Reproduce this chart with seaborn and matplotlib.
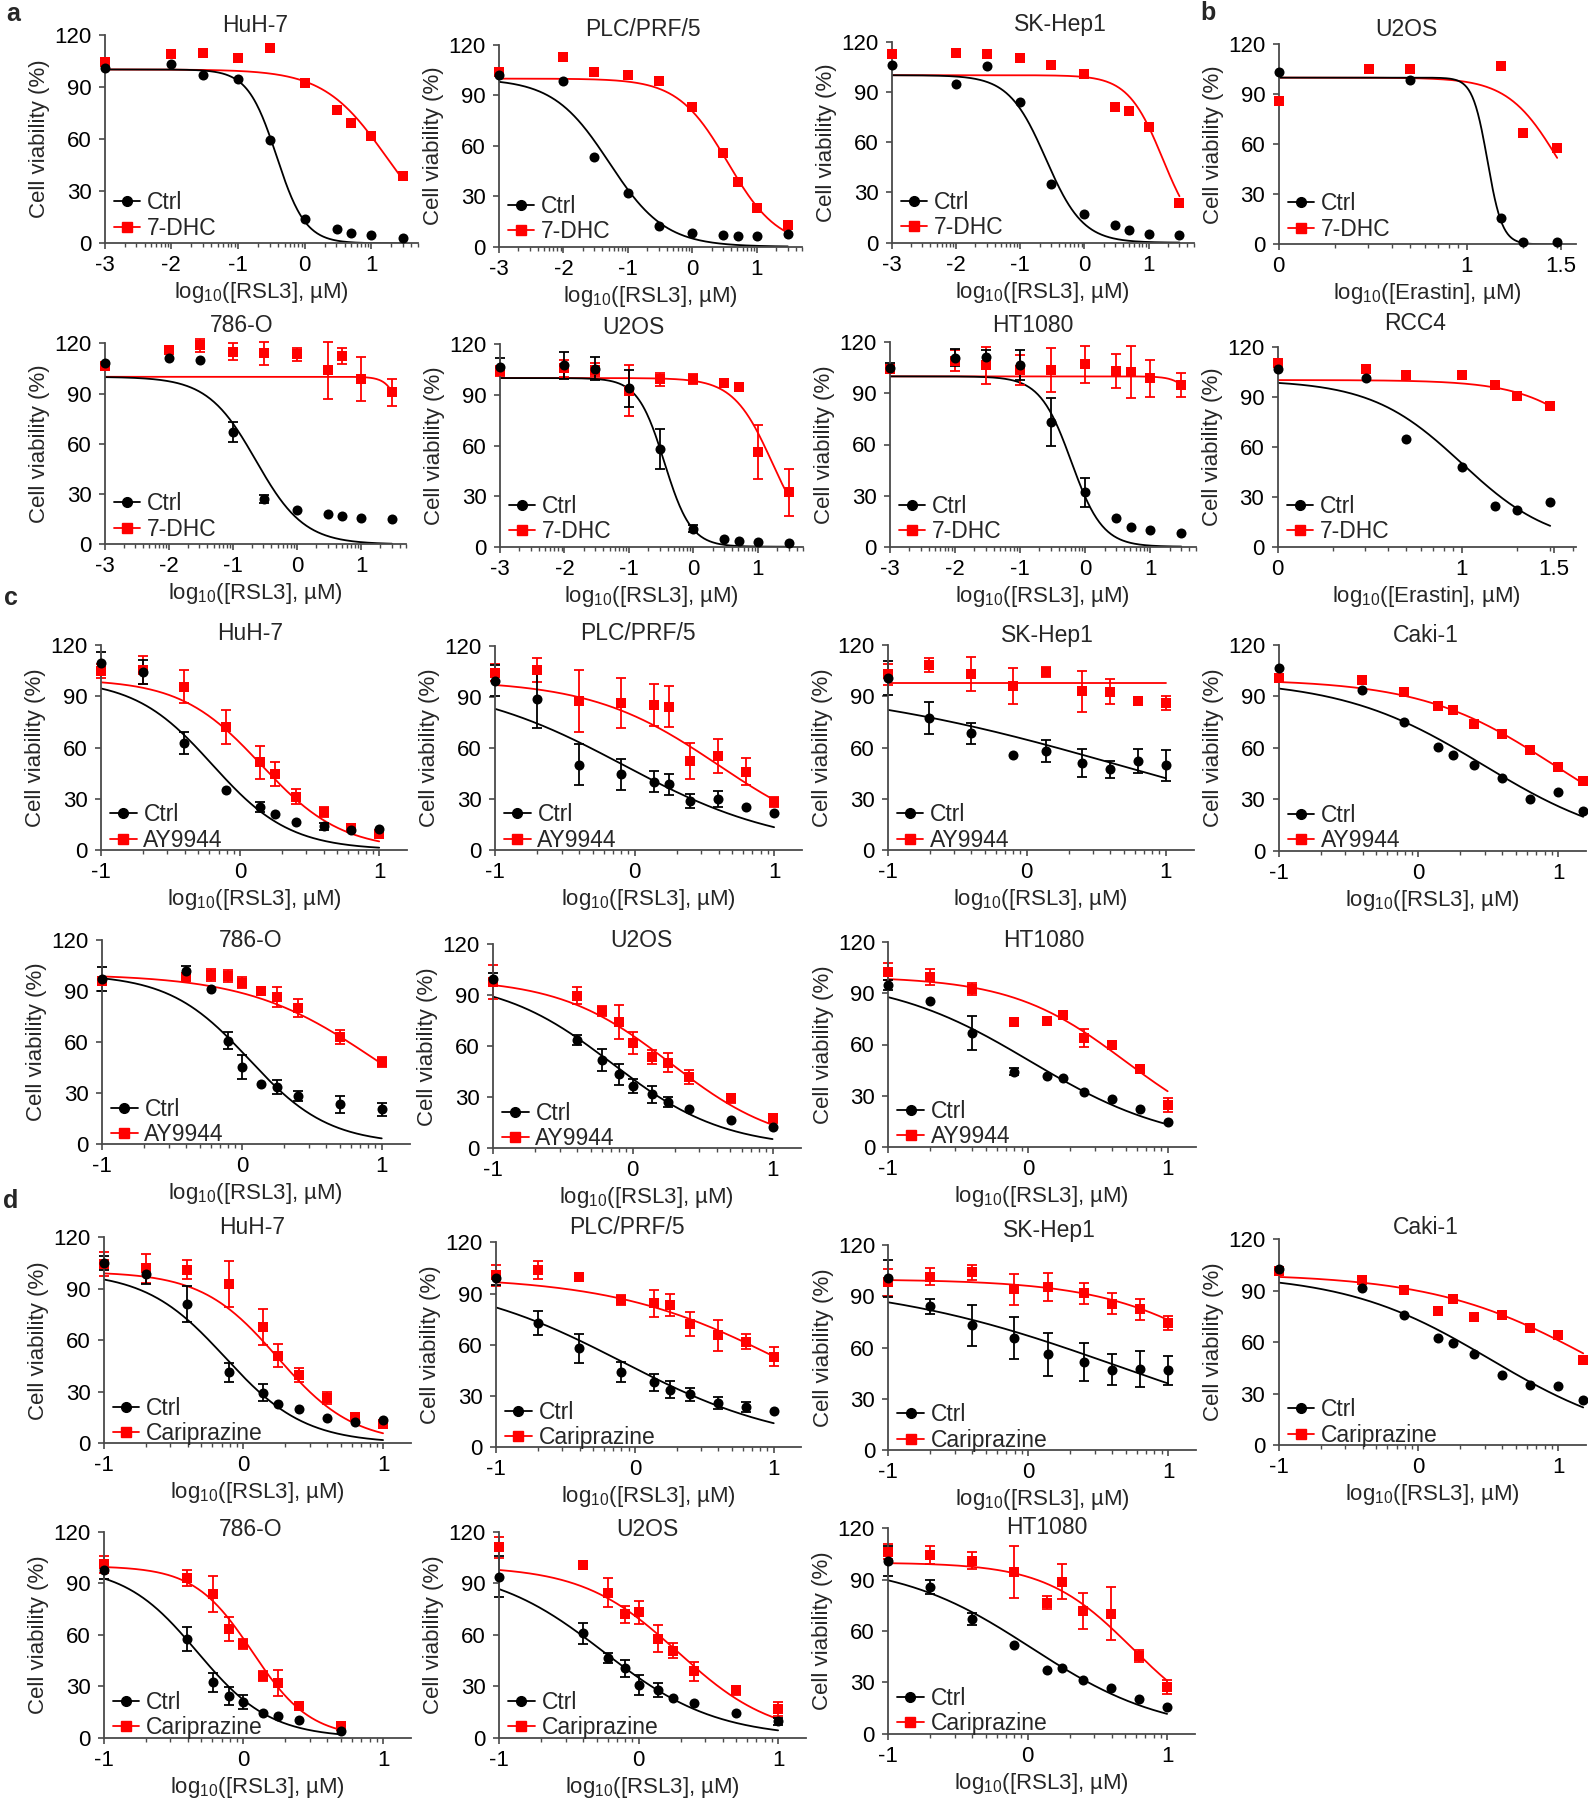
import numpy as np
import pandas as pd
import matplotlib
matplotlib.use("Agg")
import matplotlib.pyplot as plt
import seaborn as sns
from matplotlib.lines import Line2D

sns.set_theme(style="ticks")
plt.rcParams['font.family'] = ['Liberation Sans', 'DejaVu Sans']
plt.rcParams['mathtext.default'] = 'regular'

# ---------------- data (log10 concentrations, % viability) ----------------
X_A = [-3, -2, -1.52, -1, -0.52, 0, 0.48, 0.7, 1, 1.48]
X_ERA = [0, 0.48, 0.7, 1.18, 1.3, 1.48]
X_RCC4 = [0, 0.48, 0.7, 1.0, 1.18, 1.3, 1.48]
X_CD = [-1, -0.7, -0.4, -0.1, 0.14, 0.25, 0.4, 0.6, 0.8, 1.0]
X_CD9 = [-1, -0.7, -0.4, -0.1, 0.14, 0.4, 0.6, 0.8, 1.0]
X_CAKI = [-1, -0.4, -0.1, 0.14, 0.25, 0.4, 0.6, 0.8, 1.0, 1.18]
X_786 = [-1, -0.4, -0.22, -0.1, 0, 0.14, 0.25, 0.4, 0.7, 1.0]
X_786D = [-1, -0.4, -0.22, -0.1, 0, 0.14, 0.25, 0.4, 0.7]

# panel a
A_HUH7_CTRL = [100.8, 102.9, 96.8, 94.5, 59.2, 14.2, 8, 5.8, 4.6, 2.9]
A_HUH7_DHC = [104.3, 108.7, 109.4, 106.8, 112.1, 92.4, 76.7, 69.2, 61.5, 38.7]
A_PLC_CTRL = [102.1, 98.4, 53.5, 32.1, 12.5, 8.3, 6.7, 6.3, 6.1, 7.3]
A_PLC_DHC = [103.7, 112.7, 103.9, 102.1, 98.6, 83.1, 55.5, 38.3, 22.8, 12.7]
A_SK_CTRL = [105.9, 94.5, 105.5, 83.8, 34.8, 16.9, 10.3, 7.4, 5.2, 4.6]
A_SK_DHC = [112.4, 113, 112.4, 110.4, 106.3, 100.9, 81.2, 78.8, 69.3, 23.7]
A_786_CTRL = [108.3, 111.4, 109.9, 67.3, 26.9, 20.3, 17.9, 16.9, 15.5, 15.1]
A_786_CTRL_ERR = [0, 0, 0, 6, 2.5, 0, 0, 0, 0, 0]
A_786_DHC = [106.5, 116.2, 118.8, 115, 114, 113.4, 103.9, 112.4, 98.7, 90.7]
A_786_DHC_ERR = [0, 2, 4, 5, 7, 4, 17, 5, 13, 8]
A_U2OS_CTRL = [106.6, 107.6, 105.6, 93.9, 57.9, 10.7, 4.7, 3.6, 2.8, 2.4]
A_U2OS_CTRL_ERR = [5, 8, 7, 11, 12, 2, 0, 0, 0, 0]
A_U2OS_DHC = [104, 105.8, 105, 92.5, 99.2, 99.2, 96.9, 94.9, 56.3, 32.2]
A_U2OS_DHC_ERR = [3, 5, 4, 15, 4, 3, 0, 0, 16, 14]
A_HT_CTRL = [105.1, 111, 111.6, 106.7, 73.2, 31.9, 16.8, 11.6, 9.6, 7.8]
A_HT_CTRL_ERR = [3, 5, 4, 9, 14, 8.5, 0, 0, 0, 0]
A_HT_DHC = [104.3, 109.2, 106.5, 103.8, 103.6, 107.1, 103, 102.6, 98.9, 94.8]
A_HT_DHC_ERR = [2, 6, 11, 9, 13, 11, 10, 15.5, 11, 7]
# panel b
B_U2OS_CTRL = [103.6, np.nan, 98.6, 16, 1.4, 1.4]
B_U2OS_DHC = [86.2, 105, 105, 106.8, 66.6, 57.8]
B_RCC4_CTRL = [106.4, 101.4, 64.6, 48, 24.6, 22, 26.8]
B_RCC4_DHC = [110, 106.6, 102.8, 103, 97, 90.6, 84.6]
# panel c
C_HUH7_CTRL = [109.7, 104, 62.6, 34.9, 25.2, 20.9, 16.4, 13.9, 11.5, 12.5]
C_HUH7_CTRL_ERR = [6, 7, 6.5, 0, 3, 0, 0, 2, 0, 0]
C_HUH7_AY = [104.6, 105.4, 95.6, 71.8, 51.3, 44.7, 31.2, 22.2, 12.7, 9.2]
C_HUH7_AY_ERR = [4, 8, 9.5, 10, 9.5, 7, 4.5, 3, 0, 0]
C_PLC_CTRL = [99.6, 88.8, 50.2, 44.5, 40.2, 38.6, 29, 30, 25.3, 22]
C_PLC_CTRL_ERR = [9, 17, 12, 9, 6, 6, 4, 4.5, 0, 0]
C_PLC_AY = [104.3, 105.7, 87.6, 86.5, 85.3, 84.3, 52.5, 55.3, 46.1, 28.2]
C_PLC_AY_ERR = [5, 7, 18, 14.5, 12.5, 12, 10.5, 10, 8, 3]
C_SK_CTRL = [100.7, 77.3, 68.3, 55.8, 57.8, 50.9, 47.2, 52.1, 49.6]
C_SK_CTRL_ERR = [10, 9.5, 6, 0, 6.5, 8, 5, 7, 9]
C_SK_AY = [102.8, 108.1, 103, 96, 104.2, 92.9, 92.7, 87.2, 86.2]
C_SK_AY_ERR = [6, 4, 10, 10.5, 3, 12, 7.5, 0, 4]
C_CAKI_CTRL = [106.6, 94, 74.9, 60.7, 55.8, 49.8, 42.6, 30.4, 34.2, 23.3]
C_CAKI_AY = [101, 99.8, 92.6, 84.6, 82.1, 73.9, 68.1, 58.6, 49, 40.5]
C_786_CTRL = [97, 101.8, 91.4, 60.7, 45.2, 35.2, 33.7, 28.4, 23.5, 20.5]
C_786_CTRL_ERR = [7, 3, 0, 5, 7, 0, 4, 3, 5, 4]
C_786_AY = [96, 98.2, 99.4, 99, 95, 90.2, 86.5, 80, 63, 48.3]
C_786_AY_ERR = [0, 2, 3.5, 3.5, 3, 0, 6, 5.5, 4, 3]
C_U2OS_CTRL = [99.6, 63.7, 52.2, 43.5, 36.5, 31.8, 27.3, 22.9, 16.5, 12.4]
C_U2OS_CTRL_ERR = [3.5, 3, 6.5, 6, 4, 5, 3, 0, 0, 0]
C_U2OS_AY = [98, 89.6, 80.6, 74.3, 61.8, 53.7, 50.4, 42, 29.4, 17.6]
C_U2OS_AY_ERR = [10, 5, 3, 10, 6.5, 4, 5.5, 4, 2.5, 2.5]
C_HT_CTRL = [95.1, 85.7, 66.8, 44, 41.5, 40.3, 32.1, 27.8, 22.3, 14.3]
C_HT_CTRL_ERR = [3, 0, 10, 2, 0, 0, 0, 0, 0, 0]
C_HT_AY = [102.6, 99.6, 92.8, 73.4, 73.6, 77.3, 63.8, 59.9, 45.4, 24.5]
C_HT_AY_ERR = [5, 4.5, 3.5, 0, 0, 0, 5.5, 0, 0, 4]
# panel d
D_HUH7_CTRL = [105.2, 98.6, 81, 41.4, 29.5, 22.7, 20, 15, 12.4, 13.4]
D_HUH7_CTRL_ERR = [4, 6, 10.5, 5.5, 5, 0, 0, 0, 0, 0]
D_HUH7_CAR = [104.3, 101.9, 101.2, 92.8, 68, 51.1, 39.6, 26.6, 15.5, 11.5]
D_HUH7_CAR_ERR = [7, 8.5, 5.5, 13.5, 10.5, 6.5, 4, 3.5, 0, 0]
D_PLC_CTRL = [98.9, 73, 58, 44.1, 38, 33.6, 31, 26.1, 23.4, 21.5]
D_PLC_CTRL_ERR = [4, 7, 8.5, 6, 5, 5, 4, 3.5, 3, 0]
D_PLC_CAR = [100.7, 103.8, 99.5, 86.2, 84.3, 83.3, 72.2, 65.6, 61.9, 53.1]
D_PLC_CAR_ERR = [6, 5, 0, 3, 8, 6.5, 7, 9, 4.5, 5.5]
D_SK_CTRL = [100.5, 84.1, 73, 65.6, 56, 51.5, 47, 47.6, 46.6]
D_SK_CTRL_ERR = [11, 4.5, 12, 12.5, 12.5, 11, 9, 10.5, 8.5]
D_SK_CAR = [98.1, 101.5, 104, 94, 95.4, 91.7, 85.7, 82.3, 74.5]
D_SK_CAR_ERR = [8, 5, 4.5, 9, 8, 6, 6, 6, 4]
D_CAKI_CTRL = [102.5, 91.6, 76.1, 62.5, 59.3, 53.1, 40.7, 34.8, 34.2, 26.3]
D_CAKI_CAR = [101.6, 96.5, 90.5, 78.4, 85.4, 74.5, 75.7, 68.1, 64, 49.6]
D_786_CTRL = [97.5, 57.7, 32.4, 24.3, 20.6, 14.2, 12.6, 10.3, 3.9]
D_786_CTRL_ERR = [5, 7, 5.5, 5, 4, 0, 0, 0, 0]
D_786_CAR = [101, 93, 83.7, 63.5, 54.6, 36.1, 31.8, 18.4, 6.6]
D_786_CAR_ERR = [5, 4.5, 10.5, 7, 3, 3, 7.5, 2, 0]
D_U2OS_CTRL = [93.8, 60.8, 46.4, 40.4, 30.7, 27.6, 23.1, 20.2, 14.2, 9.5]
D_U2OS_CTRL_ERR = [12, 6, 3, 5, 6, 4, 0, 0, 0, 2]
D_U2OS_CAR = [110.9, 100.6, 84.5, 72, 73, 57.7, 50.7, 38.6, 27.6, 16.9]
D_U2OS_CAR_ERR = [6, 0, 8.5, 5, 6.5, 8, 4.5, 5.5, 2.5, 4]
D_HT_CTRL = [100.9, 85.7, 66.8, 51.8, 37.4, 38.2, 31.2, 26.9, 20.5, 15.4]
D_HT_CTRL_ERR = [9, 4, 3.5, 0, 0, 0, 0, 0, 0, 0]
D_HT_CAR = [106.4, 104.4, 101.1, 94.5, 76.6, 88.9, 71.7, 70.1, 45.6, 27.3]
D_HT_CAR_ERR = [4.5, 5, 5, 15, 4, 10, 10.5, 15.5, 3.5, 4]

# fitted curve parameters: (top, bottom, logIC50, hill)
FIT_A_HUH7 = [(100, 0, -0.42, 2.0), (100, 0, 1.22, 0.93)]
FIT_A_PLC = [(100, 0, -1.29, 1.0), (100, 0, 0.55, 1.12)]
FIT_A_SK = [(100, 0, -0.6, 1.5), (100, 0, 1.22, 1.6)]
FIT_B_U2OS = [(100, 0, 1.11, 11.0), (100, 0, 1.49, 3.2)]
FIT_A_786 = [(100, 0, -0.64, 1.15), (100, 0, 1.76, 3.6)]
FIT_A_U2OS = [(100, 0, -0.45, 2.1), (100, 0, 1.22, 1.45)]
FIT_A_HT = [(100, 0, -0.21, 1.8), (100, 0, 1.9, 3.0)]
FIT_B_RCC4 = [(100, 0, 1.0, 1.76), (100, 0, 1.85, 1.98)]
FIT_C_HUH7 = [(100, 0, -0.2, 1.55), (100, 0, 0.15, 1.5)]
FIT_C_PLC = [(100, 0, -0.08, 0.75), (100, 0, 0.6, 0.95)]
FIT_C_SK = [(100, 0, 0.65, 0.4), (97.5, 97.5, 0.0, 1.0)]
FIT_C_CAKI = [(100, 0, 0.465, 0.85), (100, 0, 0.97, 0.91)]
FIT_C_786 = [(100, 0, 0.05, 1.52), (100, 0, 0.95, 0.95)]
FIT_C_U2OS = [(100, 0, -0.15, 1.08), (100, 0, 0.27, 1.09)]
FIT_C_HT = [(100, 0, 0.02, 0.84), (100, 0, 0.7, 1.055)]
FIT_D_HUH7 = [(100, 0, -0.13, 1.52), (100, 0, 0.245, 1.6)]
FIT_D_PLC = [(100, 0, -0.09, 0.72), (100, 0, 1.08, 0.7)]
FIT_D_SK = [(100, 0, 0.61, 0.5), (100, 0, 1.57, 0.885)]
FIT_D_CAKI = [(100, 0, 0.515, 0.83), (100, 0, 1.26, 0.754)]
FIT_D_786 = [(100, 0, -0.33, 1.66), (100, 0, 0.065, 2.09)]
FIT_D_U2OS = [(100, 0, -0.25, 1.08), (100, 0, 0.28, 1.27)]
FIT_D_HT = [(100, 0, 0.03, 0.91), (100, 0, 0.75, 1.39)]

XL_RSL3 = r'log$_{10}$([RSL3], µM)'
XL_ERA = r'log$_{10}$([Erastin], µM)'
YL = 'Cell viability (%)'

# panel table: (title, treatment, xlabel, x, ctrl, ctrl_err, trt, trt_err, fits,
#               axes box [L, R, T, B] in px, title centre (x, y) in px, axis kind)
PANELS = [
    ('HuH-7', '7-DHC', XL_RSL3, X_A, A_HUH7_CTRL, None, A_HUH7_DHC, None, FIT_A_HUH7, (104.6, 418, 34.7, 243.3), (255, 25), 'a'),
    ('PLC/PRF/5', '7-DHC', XL_RSL3, X_A, A_PLC_CTRL, None, A_PLC_DHC, None, FIT_A_PLC, (499, 802, 45, 246.7), (643, 29), 'a'),
    ('SK-Hep1', '7-DHC', XL_RSL3, X_A, A_SK_CTRL, None, A_SK_DHC, None, FIT_A_SK, (891.8, 1193.6, 41.7, 242.7), (1060, 25), 'a'),
    ('U2OS', '7-DHC', XL_ERA, X_ERA, B_U2OS_CTRL, None, B_U2OS_DHC, None, FIT_B_U2OS, (1278.5, 1576, 44.3, 244.3), (1406, 29), 'b1'),
    ('786-O', '7-DHC', XL_RSL3, X_A, A_786_CTRL, A_786_CTRL_ERR, A_786_DHC, A_786_DHC_ERR, FIT_A_786, (104.6, 406, 343.3, 544.3), (242, 325), 'a'),
    ('U2OS', '7-DHC', XL_RSL3, X_A, A_U2OS_CTRL, A_U2OS_CTRL_ERR, A_U2OS_DHC, A_U2OS_DHC_ERR, FIT_A_U2OS, (500, 803, 344.3, 546.7), (633, 327), 'a'),
    ('HT1080', '7-DHC', XL_RSL3, X_A, A_HT_CTRL, A_HT_CTRL_ERR, A_HT_DHC, A_HT_DHC_ERR, FIT_A_HT, (889.7, 1195.6, 342.3, 546.7), (1033, 326), 'a'),
    ('RCC4', '7-DHC', XL_ERA, X_RCC4, B_RCC4_CTRL, None, B_RCC4_DHC, None, FIT_B_RCC4, (1277.5, 1576, 346.7, 546.7), (1415, 324), 'b2'),
    ('HuH-7', 'AY9944', XL_RSL3, X_CD, C_HUH7_CTRL, C_HUH7_CTRL_ERR, C_HUH7_AY, C_HUH7_AY_ERR, FIT_C_HUH7, (101, 407, 645, 850), (250, 633), 'c'),
    ('PLC/PRF/5', 'AY9944', XL_RSL3, X_CD, C_PLC_CTRL, C_PLC_CTRL_ERR, C_PLC_AY, C_PLC_AY_ERR, FIT_C_PLC, (495, 802, 646, 850), (638, 634), 'c'),
    ('SK-Hep1', 'AY9944', XL_RSL3, X_CD9, C_SK_CTRL, C_SK_CTRL_ERR, C_SK_AY, C_SK_AY_ERR, FIT_C_SK, (887.7, 1193.6, 645, 850), (1047, 635), 'c'),
    ('Caki-1', 'AY9944', XL_RSL3, X_CAKI, C_CAKI_CTRL, None, C_CAKI_AY, None, FIT_C_CAKI, (1278.5, 1586, 645, 850.7), (1426, 635), 'c'),
    ('786-O', 'AY9944', XL_RSL3, X_786, C_786_CTRL, C_786_CTRL_ERR, C_786_AY, C_786_AY_ERR, FIT_C_786, (102, 409.7, 940, 1144.3), (251, 940), 'c'),
    ('U2OS', 'AY9944', XL_RSL3, X_786, C_U2OS_CTRL, C_U2OS_CTRL_ERR, C_U2OS_AY, C_U2OS_AY_ERR, FIT_C_U2OS, (493, 800.5, 944.3, 1148.3), (641, 940), 'c'),
    ('HT1080', 'AY9944', XL_RSL3, X_CD, C_HT_CTRL, C_HT_CTRL_ERR, C_HT_AY, C_HT_AY_ERR, FIT_C_HT, (888.2, 1195.6, 942.3, 1146.7), (1044, 940), 'c'),
    ('HuH-7', 'Cariprazine', XL_RSL3, X_CD, D_HUH7_CTRL, D_HUH7_CTRL_ERR, D_HUH7_CAR, D_HUH7_CAR_ERR, FIT_D_HUH7, (103.6, 411, 1237.3, 1443.3), (252, 1228), 'c'),
    ('PLC/PRF/5', 'Cariprazine', XL_RSL3, X_CD, D_PLC_CTRL, D_PLC_CTRL_ERR, D_PLC_CAR, D_PLC_CAR_ERR, FIT_D_PLC, (496, 801.5, 1242.3, 1447.3), (627, 1228), 'c'),
    ('SK-Hep1', 'Cariprazine', XL_RSL3, X_CD9, D_SK_CTRL, D_SK_CTRL_ERR, D_SK_CAR, D_SK_CAR_ERR, FIT_D_SK, (888.2, 1196, 1245, 1450), (1049, 1230), 'c'),
    ('Caki-1', 'Cariprazine', XL_RSL3, X_CAKI, D_CAKI_CTRL, None, D_CAKI_CAR, None, FIT_D_CAKI, (1278.5, 1586, 1239.3, 1445), (1426, 1228), 'c'),
    ('786-O', 'Cariprazine', XL_RSL3, X_786D, D_786_CTRL, D_786_CTRL_ERR, D_786_CAR, D_786_CAR_ERR, FIT_D_786, (103.6, 411, 1531.7, 1737.7), (251, 1530), 'c'),
    ('U2OS', 'Cariprazine', XL_RSL3, X_786, D_U2OS_CTRL, D_U2OS_CTRL_ERR, D_U2OS_CAR, D_U2OS_CAR_ERR, FIT_D_U2OS, (499, 806, 1531.7, 1737.7), (647, 1530), 'c'),
    ('HT1080', 'Cariprazine', XL_RSL3, X_CD, D_HT_CTRL, D_HT_CTRL_ERR, D_HT_CAR, D_HT_CAR_ERR, FIT_D_HT, (888, 1195, 1528.3, 1733.7), (1047, 1528), 'c'),
]

AXIS_SETUP = {
    'a': dict(xlim=(-3, 1.7), major=[-3, -2, -1, 0, 1], labels=['-3', '-2', '-1', '0', '1']),
    'c': dict(xlim=(-1, 1.2), major=[-1, 0, 1], labels=['-1', '0', '1']),
    'b1': dict(xlim=(0, 1.58), major=[0, 1, 1.5], labels=['0', '1', '1.5']),
    'b2': dict(xlim=(0, 1.62), major=[0, 1, 1.5], labels=['0', '1', '1.5']),
}

W, H = 1588, 1800
RED = '#ff0000'
BLACK = '#000000'
AXC = '#4a4a4a'
FS_TICK = 16
FS_LAB = 16
FS_LEG = 16.5


def logistic(x, top, bottom, logc, hill):
    return bottom + (top - bottom) / (1 + 10 ** ((x - logc) * hill))


def log_minor(lo, hi):
    out = []
    for n in range(int(np.floor(lo)) - 1, int(np.ceil(hi)) + 1):
        for k in range(2, 10):
            v = n + np.log10(k)
            if lo < v < hi:
                out.append(v)
    return out


fig = plt.figure(figsize=(W / 100, H / 100), dpi=100)

for (title, trt_name, xlab, x, ctrl, ctrl_err, trt, trt_err, fits, box, tpos, kind) in PANELS:
    L, R, T, B = box
    ax = fig.add_axes([L / W, 1 - B / H, (R - L) / W, (B - T) / H])
    x = np.asarray(x, dtype=float)
    xs = np.linspace(x.min(), x.max(), 300)
    series = [
        (trt, trt_err, fits[1], RED, 's', 46),
        (ctrl, ctrl_err, fits[0], BLACK, 'o', 52),
    ]
    for vals, err, fit, color, marker, size in series:
        vals = np.asarray(vals, dtype=float)
        curve = pd.DataFrame({'x': xs, 'y': logistic(xs, *fit)})
        sns.lineplot(data=curve, x='x', y='y', color=color, linewidth=1.3, ax=ax, zorder=2)
        if err is not None:
            e = np.asarray(err, dtype=float)
            m = e > 0
            ax.errorbar(x[m], vals[m], yerr=e[m], fmt='none', ecolor=color,
                        elinewidth=1.3, capsize=3.5, capthick=1.3, zorder=2.5, clip_on=False)
        pts = pd.DataFrame({'x': x, 'y': vals}).dropna()
        sns.scatterplot(data=pts, x='x', y='y', marker=marker, s=size, color=color,
                        edgecolor=color, linewidth=0, ax=ax, zorder=3, clip_on=False)

    cfg = AXIS_SETUP[kind]
    ax.set_xlim(*cfg['xlim'])
    ax.set_ylim(0, 120)
    ax.set_yticks([0, 30, 60, 90, 120])
    ax.set_xticks(cfg['major'])
    ax.set_xticklabels(cfg['labels'])
    ax.set_xticks(log_minor(*cfg['xlim']), minor=True)
    ax.tick_params(axis='both', which='major', length=4.5, width=1.2, color=AXC,
                   labelsize=FS_TICK, labelcolor='black')
    ax.tick_params(axis='x', which='major', pad=4)
    ax.tick_params(axis='y', which='major', pad=5)
    ax.tick_params(axis='x', which='minor', length=3, width=1.0, color=AXC)
    ax.tick_params(axis='y', which='minor', length=0)
    for s in ['top', 'right']:
        ax.spines[s].set_visible(False)
    for s in ['left', 'bottom']:
        ax.spines[s].set_color(AXC)
        ax.spines[s].set_linewidth(1.3)
    ax.set_xlabel(xlab, fontsize=FS_LAB, labelpad=3)
    ax.set_ylabel(YL, fontsize=FS_LAB, labelpad=3)
    ax.set_facecolor('none')
    fig.text(tpos[0] / W, 1 - tpos[1] / H, title, fontsize=FS_LAB + 0.5,
             ha='center', va='center')

    handles = [
        Line2D([0], [0], color=BLACK, marker='o', markersize=7, linewidth=1.3),
        Line2D([0], [0], color=RED, marker='s', markersize=6.5, linewidth=1.3),
    ]
    yanchor = -0.005 if kind in ('a', 'b1', 'b2') else -0.03
    ax.legend(handles, ['Ctrl', trt_name], loc='lower left', bbox_to_anchor=(0.015, yanchor),
              frameon=False, fontsize=FS_LEG, handlelength=1.15, handletextpad=0.3,
              labelspacing=0.1, borderaxespad=0, borderpad=0.2)

for letter, (lx, ly) in {'a': (13, 14), 'b': (1208, 13), 'c': (11, 598), 'd': (11, 1201)}.items():
    fig.text(lx / W, 1 - ly / H, letter, fontsize=18, fontweight='bold', ha='center', va='center')

fig.savefig('out.png', dpi=100)
